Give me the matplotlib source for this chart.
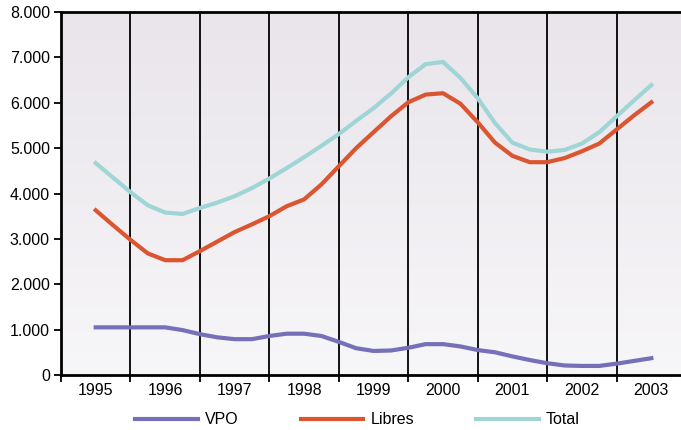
import numpy as np
import matplotlib.pyplot as plt
from matplotlib.colors import LinearSegmentedColormap
from matplotlib.ticker import FuncFormatter

plt.rcParams['font.family'] = ['Liberation Sans', 'DejaVu Sans']

# quarterly points, in thousands of units
years = [1995, 1996, 1997, 1998, 1999, 2000, 2001, 2002, 2003]
quarters = np.arange(1995, 2003.01, 0.25)

vpo = [1.05, 1.05, 1.05, 1.05, 1.05, 0.99, 0.90, 0.83, 0.79, 0.79, 0.86, 0.91, 0.91,
       0.86, 0.73, 0.59, 0.53, 0.54, 0.60, 0.68, 0.68, 0.63, 0.55, 0.50, 0.41, 0.33,
       0.26, 0.21, 0.20, 0.20, 0.25, 0.31, 0.37]
libres = [3.63, 3.30, 2.98, 2.68, 2.53, 2.53, 2.73, 2.94, 3.15, 3.32, 3.50, 3.72, 3.87,
          4.20, 4.60, 5.00, 5.35, 5.70, 6.01, 6.18, 6.21, 5.98, 5.57, 5.12, 4.83, 4.69,
          4.69, 4.78, 4.93, 5.10, 5.41, 5.72, 6.01]
total = [4.67, 4.35, 4.03, 3.74, 3.58, 3.55, 3.68, 3.80, 3.94, 4.12, 4.33, 4.56, 4.80,
         5.05, 5.31, 5.60, 5.88, 6.20, 6.56, 6.85, 6.90, 6.55, 6.10, 5.55, 5.12, 4.97,
         4.92, 4.96, 5.10, 5.35, 5.70, 6.05, 6.39]

series = [("VPO", vpo, "#7570b7"), ("Libres", libres, "#da5530"), ("Total", total, "#9fd5d5")]

fig = plt.figure(figsize=(6.81, 4.30), dpi=100)
ax = fig.add_axes([61/681, 55/430, 620/681, 363/430])

x0, x1 = 1994.5, 1994.5 + 620/69.45
# soft gradient background
grad = np.linspace(0, 1, 256).reshape(-1, 1)
bg = LinearSegmentedColormap.from_list("bg", ["#f7f6f8", "#e9e5eb"])
ax.imshow(grad, extent=[x0, x1, 0, 8000], aspect='auto', origin='lower', cmap=bg, zorder=0)

for name, vals, col in series:
    ax.plot(quarters, np.array(vals) * 1000, color=col, lw=3, label=name, zorder=3)

for b in np.arange(1995.5, 2003, 1):
    ax.axvline(b, color='black', lw=1.3, zorder=2)

ax.set_xlim(x0, x1)
ax.set_ylim(0, 8000)
ax.set_yticks(range(0, 8001, 1000))
ax.yaxis.set_major_formatter(FuncFormatter(lambda v, p: f"{int(v):,}".replace(",", ".")))
ax.set_xticks(years)
ax.set_xticklabels([str(y) for y in years])
ax.set_xticks(np.arange(1994.5, 2003, 1), minor=True)
ax.tick_params(axis='x', which='major', length=0, pad=6, labelsize=11.5)
ax.tick_params(axis='x', which='minor', length=5, width=1.3)
ax.tick_params(axis='y', length=5, width=1.3, pad=3, labelsize=11.5)

ax.spines['right'].set_visible(False)
ax.spines['top'].set_linewidth(2)
ax.spines['left'].set_linewidth(2)
ax.spines['bottom'].set_linewidth(2)

fig.legend(loc='center', bbox_to_anchor=(0.525, 0.024), ncol=3, frameon=False,
           fontsize=11.5, handlelength=3.9, handletextpad=0.45, columnspacing=3.9)

fig.savefig("out.png", dpi=100)
